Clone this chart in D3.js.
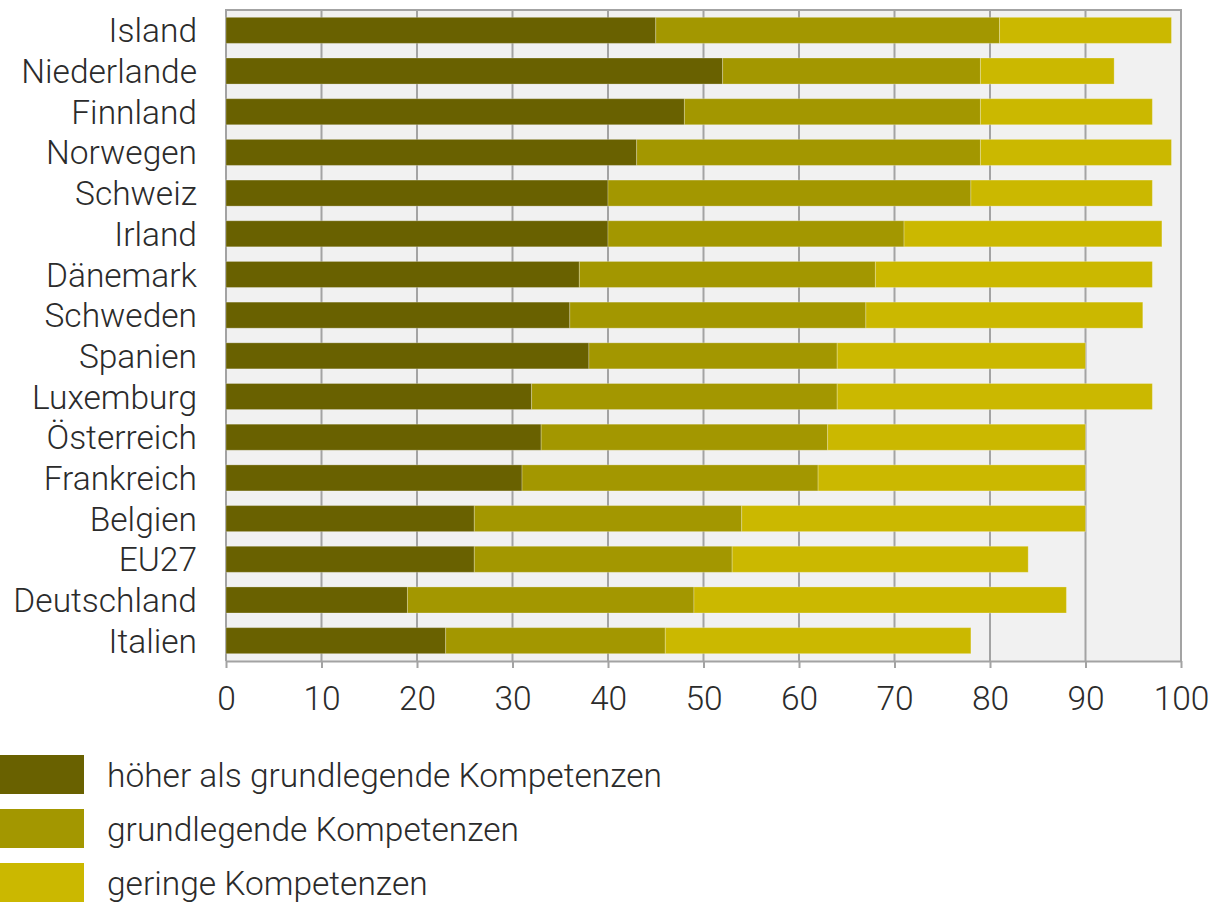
<!DOCTYPE html>
<html>
<head>
<meta charset="utf-8">
<script src="https://cdnjs.cloudflare.com/ajax/libs/d3/7.8.5/d3.min.js"></script>
<style>
  body { margin: 0; background: #fff; }
  text { font-family: Roboto, "Noto Sans", sans-serif; font-weight: 300; fill: #2b2b2b; }
</style>
</head>
<body>
<div id="chart"></div>
<script>
// categories, top to bottom
const countries = ["Island", "Niederlande", "Finnland", "Norwegen", "Schweiz", "Irland", "Dänemark",
  "Schweden", "Spanien", "Luxemburg", "Österreich", "Frankreich", "Belgien", "EU27", "Deutschland", "Italien"]

// segment values per country (percent)
const hoeher = [45, 52, 48, 43, 40, 40, 37, 36, 38, 32, 33, 31, 26, 26, 19, 23]
const grundlegend = [36, 27, 31, 36, 38, 31, 31, 31, 26, 32, 30, 31, 28, 27, 30, 23]
const gering = [18, 14, 18, 20, 19, 27, 29, 29, 26, 33, 27, 28, 36, 31, 39, 32]

const seriesNames = ["höher als grundlegende Kompetenzen", "grundlegende Kompetenzen", "geringe Kompetenzen"]
const seriesColors = ["#696100", "#a39700", "#cbb800"]
const xTicks = [0, 10, 20, 30, 40, 50, 60, 70, 80, 90, 100]

const width = 1213
const height = 902
const margin = {top: 10, left: 226, right: 32, bottom: 241}
const fontSize = "33.5px"

const svg = d3.select("#chart")
  .append("svg")
  .attr("width", width)
  .attr("height", height)

const x = d3.scaleLinear().domain([0, 100]).range([margin.left, width - margin.right])
const y = d3.scaleBand().domain(countries)
  .range([margin.top, height - margin.bottom])
  .paddingInner(0.36).paddingOuter(0.18)

// plot background
svg.append("rect")
  .attr("x", x(0)).attr("y", margin.top)
  .attr("width", x(100) - x(0)).attr("height", height - margin.bottom - margin.top)
  .attr("fill", "#f1f1f1")

// grid lines
svg.append("g")
  .selectAll("line")
  .data(xTicks)
  .enter().append("line")
  .attr("x1", d => x(d)).attr("x2", d => x(d))
  .attr("y1", margin.top).attr("y2", height - margin.bottom)
  .attr("stroke", "#a3a3a3")
  .attr("stroke-width", 2)

// top border
svg.append("line")
  .attr("x1", x(0) - 1).attr("x2", x(100) + 1)
  .attr("y1", margin.top).attr("y2", margin.top)
  .attr("stroke", "#a3a3a3").attr("stroke-width", 2)

// stack the data
const rows = countries.map((c, i) => ({country: c, v0: hoeher[i], v1: grundlegend[i], v2: gering[i]}))
const stack = d3.stack().keys(["v0", "v1", "v2"])(rows)

svg.append("g")
  .selectAll("g")
  .data(stack)
  .enter().append("g")
  .attr("fill", (d, i) => seriesColors[i])
  .selectAll("rect")
  .data(d => d)
  .enter().append("rect")
  .attr("x", d => x(d[0]))
  .attr("y", d => y(d.data.country))
  .attr("width", d => x(d[1]) - x(d[0]))
  .attr("height", y.bandwidth())
  .attr("stroke", "rgba(255,255,255,0.25)")
  .attr("stroke-width", 1)

// x axis
const xAxis = svg.append("g")
  .attr("transform", "translate(0," + (height - margin.bottom) + ")")
  .call(d3.axisBottom(x).tickValues(xTicks).tickSize(7).tickPadding(18).tickSizeOuter(0))
xAxis.select(".domain").attr("stroke", "#a3a3a3").attr("stroke-width", 2)
xAxis.selectAll(".tick line").attr("stroke", "#a3a3a3").attr("stroke-width", 2)
xAxis.selectAll(".tick text")
  .style("font-size", fontSize)
  .style("font-family", "Roboto, sans-serif")
  .style("font-weight", 300)
  .attr("fill", "#2b2b2b")

// country labels
svg.append("g")
  .selectAll("text")
  .data(countries)
  .enter().append("text")
  .attr("x", 197)
  .attr("y", d => y(d) + y.bandwidth() / 2)
  .attr("dy", "0.36em")
  .attr("text-anchor", "end")
  .style("font-size", fontSize)
  .text(d => d)

// legend
const legend = svg.append("g")
  .selectAll("g")
  .data(seriesNames)
  .enter().append("g")
  .attr("transform", (d, i) => "translate(0," + (755 + i * 54) + ")")

legend.append("rect")
  .attr("x", 0).attr("y", 0)
  .attr("width", 84).attr("height", 39)
  .attr("fill", (d, i) => seriesColors[i])

legend.append("text")
  .attr("x", 107)
  .attr("y", 20)
  .attr("dy", "0.36em")
  .style("font-size", fontSize)
  .text(d => d)
</script>
</body>
</html>
